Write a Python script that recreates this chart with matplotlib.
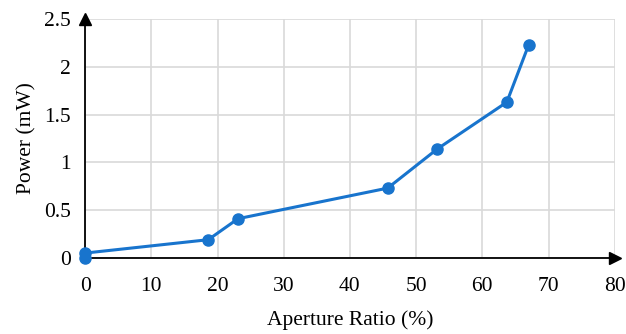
import matplotlib
matplotlib.use("Agg")
import matplotlib.pyplot as plt

# values
aperture = [0, 0, 18.6, 23.1, 45.7, 53.2, 63.7, 67.0]
power = [0.0, 0.05, 0.19, 0.41, 0.73, 1.14, 1.63, 2.23]
xticks = [0, 10, 20, 30, 40, 50, 60, 70, 80]
yticks = [0, 0.5, 1, 1.5, 2, 2.5]
ytick_labels = ["0", "0.5", "1", "1.5", "2", "2.5"]

plt.rcParams["font.family"] = ["Liberation Serif", "DejaVu Serif"]
plt.rcParams["font.size"] = 15.5

fig = plt.figure(figsize=(6.26, 3.34), dpi=100)
ax = fig.add_axes([0.136, 0.228, 0.846, 0.715])

ax.plot(aperture, power, "-o", color="#1874cd", lw=2.2, ms=8, zorder=3,
        clip_on=False)

ax.set_xlim(0, 80)
ax.set_ylim(0, 2.5)
ax.set_xticks(xticks)
ax.set_yticks(yticks)
ax.set_yticklabels(ytick_labels)
ax.grid(True, color="#d9d9d9", lw=1.2)
ax.set_axisbelow(True)
ax.tick_params(length=0)
ax.tick_params(axis="x", pad=14)
ax.tick_params(axis="y", pad=10)

for s in ["top", "right"]:
    ax.spines[s].set_visible(False)
for s in ["left", "bottom"]:
    ax.spines[s].set_color("black")
    ax.spines[s].set_linewidth(1.3)

# arrow heads at the ends of the axes
ax.plot(1, 0, ">k", ms=9, transform=ax.get_yaxis_transform(), clip_on=False)
ax.plot(0, 1, "^k", ms=9, transform=ax.get_xaxis_transform(), clip_on=False)

ax.set_xlabel("Aperture Ratio (%)", labelpad=10)
ax.set_ylabel("Power (mW)", labelpad=6)

fig.savefig("out.png", dpi=100)
